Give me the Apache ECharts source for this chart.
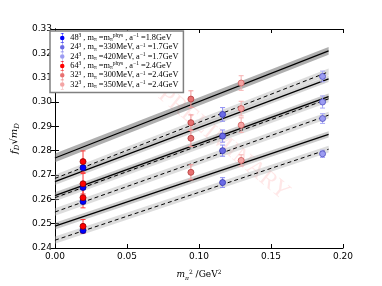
<!DOCTYPE html>
<html><head><meta charset="utf-8">
<script src="https://cdn.jsdelivr.net/npm/echarts@6/dist/echarts.min.js"></script>
<style>html,body{margin:0;padding:0;background:#fff}#c{width:382px;height:286px}</style>
</head><body><div id="c"></div>
<script>
// ---- tick labels ----
const xTickLabels = ['0.00','0.05','0.10','0.15','0.20'];
const yTickLabels = ['0.24','0.25','0.26','0.27','0.28','0.29','0.30','0.31','0.32','0.33'];

// ---- ensembles (x = m_pi^2, y = f_D sqrt(m_D), err) ----
const ens48X = [0.0195, 0.0195, 0.0195, 0.0195];
const ens48Y = [0.2730, 0.2649, 0.2591, 0.2472];
const ens48E = [0.0009, 0.0009, 0.0009, 0.0009];

const ens24aX = [0.1164, 0.1164, 0.1164, 0.1164];
const ens24aY = [0.2949, 0.2860, 0.2800, 0.2669];
const ens24aE = [0.0028, 0.0025, 0.0023, 0.0020];

const ens24bX = [0.1858, 0.1858, 0.1858, 0.1858];
const ens24bY = [0.3105, 0.3000, 0.2932, 0.2787];
const ens24bE = [0.0022, 0.0025, 0.0020, 0.0015];

const ens64X = [0.0195, 0.0195, 0.0195, 0.0195];
const ens64Y = [0.2755, 0.2664, 0.2607, 0.2489];
const ens64E = [0.0044, 0.0042, 0.0042, 0.0028];

const ens32aX = [0.0944, 0.0944, 0.0944, 0.0944];
const ens32aY = [0.3012, 0.2915, 0.2851, 0.2711];
const ens32aE = [0.0034, 0.0032, 0.0034, 0.0031];

const ens32bX = [0.1293, 0.1293, 0.1293, 0.1293];
const ens32bY = [0.3078, 0.2973, 0.2905, 0.2760];
const ens32bE = [0.0030, 0.0030, 0.0030, 0.0023];

// ---- fit lines (values at fitX ends) and band half-widths ----
const fitX = [0, 0.19];
const solid1 = [0.2770, 0.3210]; const solid1Err = [0.0018, 0.0016];
const solid2 = [0.2673, 0.3095]; const solid2Err = [0.0014, 0.0013];
const solid3 = [0.2615, 0.3022]; const solid3Err = [0.0014, 0.0013];
const solid4 = [0.2490, 0.2867]; const solid4Err = [0.0014, 0.0013];
const dashed1 = [0.2686, 0.3124]; const dashed1Err = [0.0015, 0.0014];
const dashed2 = [0.2607, 0.3013]; const dashed2Err = [0.0015, 0.0014];
const dashed3 = [0.2548, 0.2946]; const dashed3Err = [0.0015, 0.0014];
const dashed4 = [0.2432, 0.2806]; const dashed4Err = [0.0015, 0.0014];

// ---- legend labels (rich text) ----
const legendLabels = {
  e48:  '48{sup|3} , m{sub|π} =m{sub|π}{sup|phys} , a{sup|−1} =1.8GeV',
  e24a: '24{sup|3} , m{sub|π} =330MeV, a{sup|−1} =1.7GeV',
  e24b: '24{sup|3} , m{sub|π} =420MeV, a{sup|−1} =1.7GeV',
  e64:  '64{sup|3} , m{sub|π} =m{sub|π}{sup|phys} , a{sup|−1} =2.4GeV',
  e32a: '32{sup|3} , m{sub|π} =300MeV, a{sup|−1} =2.4GeV',
  e32b: '32{sup|3} , m{sub|π} =350MeV, a{sup|−1} =2.4GeV'
};

const ensembles = [
  {name:'e48',  xs:ens48X,  ys:ens48Y,  es:ens48E,  fill:'#0000ff', border:'#00008a', bar:'#2a2aff'},
  {name:'e24a', xs:ens24aX, ys:ens24aY, es:ens24aE, fill:'#6a6ae6', border:'#3434a8', bar:'#8c8cf2'},
  {name:'e24b', xs:ens24bX, ys:ens24bY, es:ens24bE, fill:'#9c9cf2', border:'#5050c0', bar:'#a8a8f6'},
  {name:'e64',  xs:ens64X,  ys:ens64Y,  es:ens64E,  fill:'#ff0000', border:'#8a0000', bar:'#ff3a3a'},
  {name:'e32a', xs:ens32aX, ys:ens32aY, es:ens32aE, fill:'#e87070', border:'#b03c3c', bar:'#f29494'},
  {name:'e32b', xs:ens32bX, ys:ens32bY, es:ens32bE, fill:'#f4a4a4', border:'#d06060', bar:'#f6b0b0'}
];

const fits = [
  {v:solid1, e:solid1Err, dash:false, band:'rgba(110,110,110,0.55)'},
  {v:solid2, e:solid2Err, dash:false, band:'rgba(150,150,150,0.40)'},
  {v:solid3, e:solid3Err, dash:false, band:'rgba(140,140,140,0.45)'},
  {v:solid4, e:solid4Err, dash:false, band:'rgba(140,140,140,0.45)'},
  {v:dashed1, e:dashed1Err, dash:true, band:'rgba(180,180,180,0.45)'},
  {v:dashed2, e:dashed2Err, dash:true, band:'rgba(180,180,180,0.45)'},
  {v:dashed3, e:dashed3Err, dash:true, band:'rgba(180,180,180,0.45)'},
  {v:dashed4, e:dashed4Err, dash:true, band:'rgba(180,180,180,0.45)'}
];

const xMin = parseFloat(xTickLabels[0]), xMax = parseFloat(xTickLabels[xTickLabels.length-1]);
const xStep = parseFloat(xTickLabels[1]) - xMin;
const yMin = parseFloat(yTickLabels[0]), yMax = parseFloat(yTickLabels[yTickLabels.length-1]);
const yStep = +(parseFloat(yTickLabels[1]) - yMin).toFixed(4);

const series = [];
// bands
fits.forEach((f, i) => {
  series.push({
    type:'custom', name:'band'+i, z:1, clip:true, silent:true,
    encode:{x:[0,3], y:[1,2,4,5]},
    data:[[fitX[0], f.v[0]-f.e[0], f.v[0]+f.e[0], fitX[1], f.v[1]-f.e[1], f.v[1]+f.e[1]]],
    renderItem:(params, api) => {
      const a = api.coord([api.value(0), api.value(2)]);
      const b = api.coord([api.value(3), api.value(5)]);
      const c = api.coord([api.value(3), api.value(4)]);
      const d = api.coord([api.value(0), api.value(1)]);
      return {type:'polygon', shape:{points:[a,b,c,d]}, style:{fill:f.band}};
    }
  });
});
// lines
fits.forEach((f, i) => {
  series.push({
    type:'line', name:'fit'+i, z:2, silent:true, symbol:'none', animation:false,
    data:[[fitX[0], f.v[0]], [fitX[1], f.v[1]]],
    lineStyle:{color:'#000', width:f.dash ? 1 : 1.2, type:f.dash ? [4,3] : 'solid'}
  });
});
// error bars
ensembles.forEach(en => {
  series.push({
    type:'custom', name:en.name+'_err', z:3, silent:true,
    encode:{x:0, y:1},
    data: en.xs.map((x, i) => [x, en.ys[i], en.es[i]]),
    renderItem:(params, api) => {
      const x = api.value(0), y = api.value(1), e = api.value(2);
      const t = api.coord([x, y+e]), b = api.coord([x, y-e]);
      const cw = 2.5;
      const st = {stroke:en.bar, lineWidth:1};
      return {type:'group', children:[
        {type:'line', shape:{x1:t[0], y1:t[1], x2:b[0], y2:b[1]}, style:st},
        {type:'line', shape:{x1:t[0]-cw, y1:t[1], x2:t[0]+cw, y2:t[1]}, style:st},
        {type:'line', shape:{x1:b[0]-cw, y1:b[1], x2:b[0]+cw, y2:b[1]}, style:st}
      ]};
    }
  });
});
// points
ensembles.forEach(en => {
  series.push({
    type:'scatter', name:en.name, z:4, symbol:'circle', symbolSize:6,
    data: en.xs.map((x, i) => [x, en.ys[i]]),
    itemStyle:{color:en.fill, borderColor:en.border, borderWidth:0.8, opacity:1}
  });
});

const icon = 'path://M2,0h6v1h-6z M4.5,0h1v20h-1z M2,19h6v1h-6z M9.5,10A4.5,4.5 0 1 1 0.5,10A4.5,4.5 0 1 1 9.5,10z';

const option = {
  animation:false,
  backgroundColor:'#fff',
  grid:{left:47, top:29, right:39, bottom:29},
  xAxis:[
    {type:'value', min:xMin, max:xMax, interval:xStep, position:'bottom',
     axisLine:{lineStyle:{color:'#000', width:1}}, splitLine:{show:false},
     axisTick:{inside:true, length:4, lineStyle:{color:'#000'}},
     axisLabel:{color:'#000', fontSize:9, fontFamily:'DejaVu Sans', margin:4,
       formatter:v => xTickLabels[Math.round((v - xMin)/xStep)]},
     name:'{i|m}{sub|π}{sup|2}{n| /GeV}{sup|2}', nameLocation:'middle', nameGap:21,
     nameTextStyle:{color:'#000', fontFamily:'DejaVu Serif', fontSize:9, lineHeight:12,
       rich:{i:{fontStyle:'italic', fontFamily:'DejaVu Serif', fontSize:9, color:'#000'},
             n:{fontFamily:'DejaVu Serif', fontSize:9, color:'#000'},
             sub:{fontStyle:'italic', fontSize:6, verticalAlign:'bottom', color:'#000', fontFamily:'DejaVu Serif'},
             sup:{fontSize:6, verticalAlign:'top', color:'#000', fontFamily:'DejaVu Serif'}}}},
    {type:'value', min:xMin, max:xMax, interval:xStep, position:'top',
     axisLine:{lineStyle:{color:'#000', width:1}}, splitLine:{show:false},
     axisTick:{inside:true, length:4, lineStyle:{color:'#000'}}, axisLabel:{show:false}}
  ],
  yAxis:[
    {type:'value', min:yMin, max:yMax, interval:yStep, position:'left',
     axisLine:{show:true, lineStyle:{color:'#000', width:1}}, splitLine:{show:false},
     axisTick:{show:true, inside:true, length:4, lineStyle:{color:'#000'}},
     axisLabel:{color:'#000', fontSize:9, fontFamily:'DejaVu Sans', margin:3,
       formatter:v => yTickLabels[Math.round((v - yMin)/yStep)]},
     name:'{i|f}{sub|D}{n|√}{i|m}{sub|D}', nameLocation:'middle', nameGap:26, nameRotate:90,
     nameTextStyle:{color:'#000', fontFamily:'DejaVu Serif', fontSize:10, lineHeight:13,
       rich:{i:{fontStyle:'italic', fontFamily:'DejaVu Serif', fontSize:10, color:'#000'},
             n:{fontFamily:'DejaVu Serif', fontSize:10, color:'#000'},
             sub:{fontStyle:'italic', fontSize:7, verticalAlign:'bottom', color:'#000', fontFamily:'DejaVu Serif'}}}},
    {type:'value', min:yMin, max:yMax, interval:yStep, position:'right',
     axisLine:{show:true, lineStyle:{color:'#000', width:1}}, splitLine:{show:false},
     axisTick:{show:true, inside:true, length:4, lineStyle:{color:'#000'}}, axisLabel:{show:false}}
  ],
  legend:{
    orient:'vertical', left:50, top:31, z:10,
    data: ensembles.map(en => ({name:en.name, icon:icon})),
    itemWidth:6, itemHeight:10, itemGap:-0.7,
    padding:[2,5,3,10],
    backgroundColor:'#fff', borderColor:'#808080', borderWidth:1.5, borderRadius:0,
    selectedMode:false,
    itemStyle:{borderWidth:0},
    formatter: n => legendLabels[n],
    textStyle:{color:'#000', fontFamily:'Liberation Serif', fontSize:8.3, lineHeight:10,
      rich:{sup:{fontSize:5.5, verticalAlign:'top', fontFamily:'Liberation Serif', color:'#000', lineHeight:10},
            sub:{fontSize:5.5, verticalAlign:'bottom', fontFamily:'Liberation Serif', color:'#000', lineHeight:10}}}
  },
  graphic:[{
    type:'text', x:224, y:144, rotation:-0.69, z:0, silent:true,
    style:{text:'PRELIMINARY', font:'24px "Liberation Serif"', fill:'rgba(255,70,70,0.13)',
           align:'center', verticalAlign:'middle'}
  }],
  series: series
};

const chart = echarts.init(document.getElementById('c'), null, {renderer:'canvas'});
chart.setOption(option);
</script>
</body></html>
